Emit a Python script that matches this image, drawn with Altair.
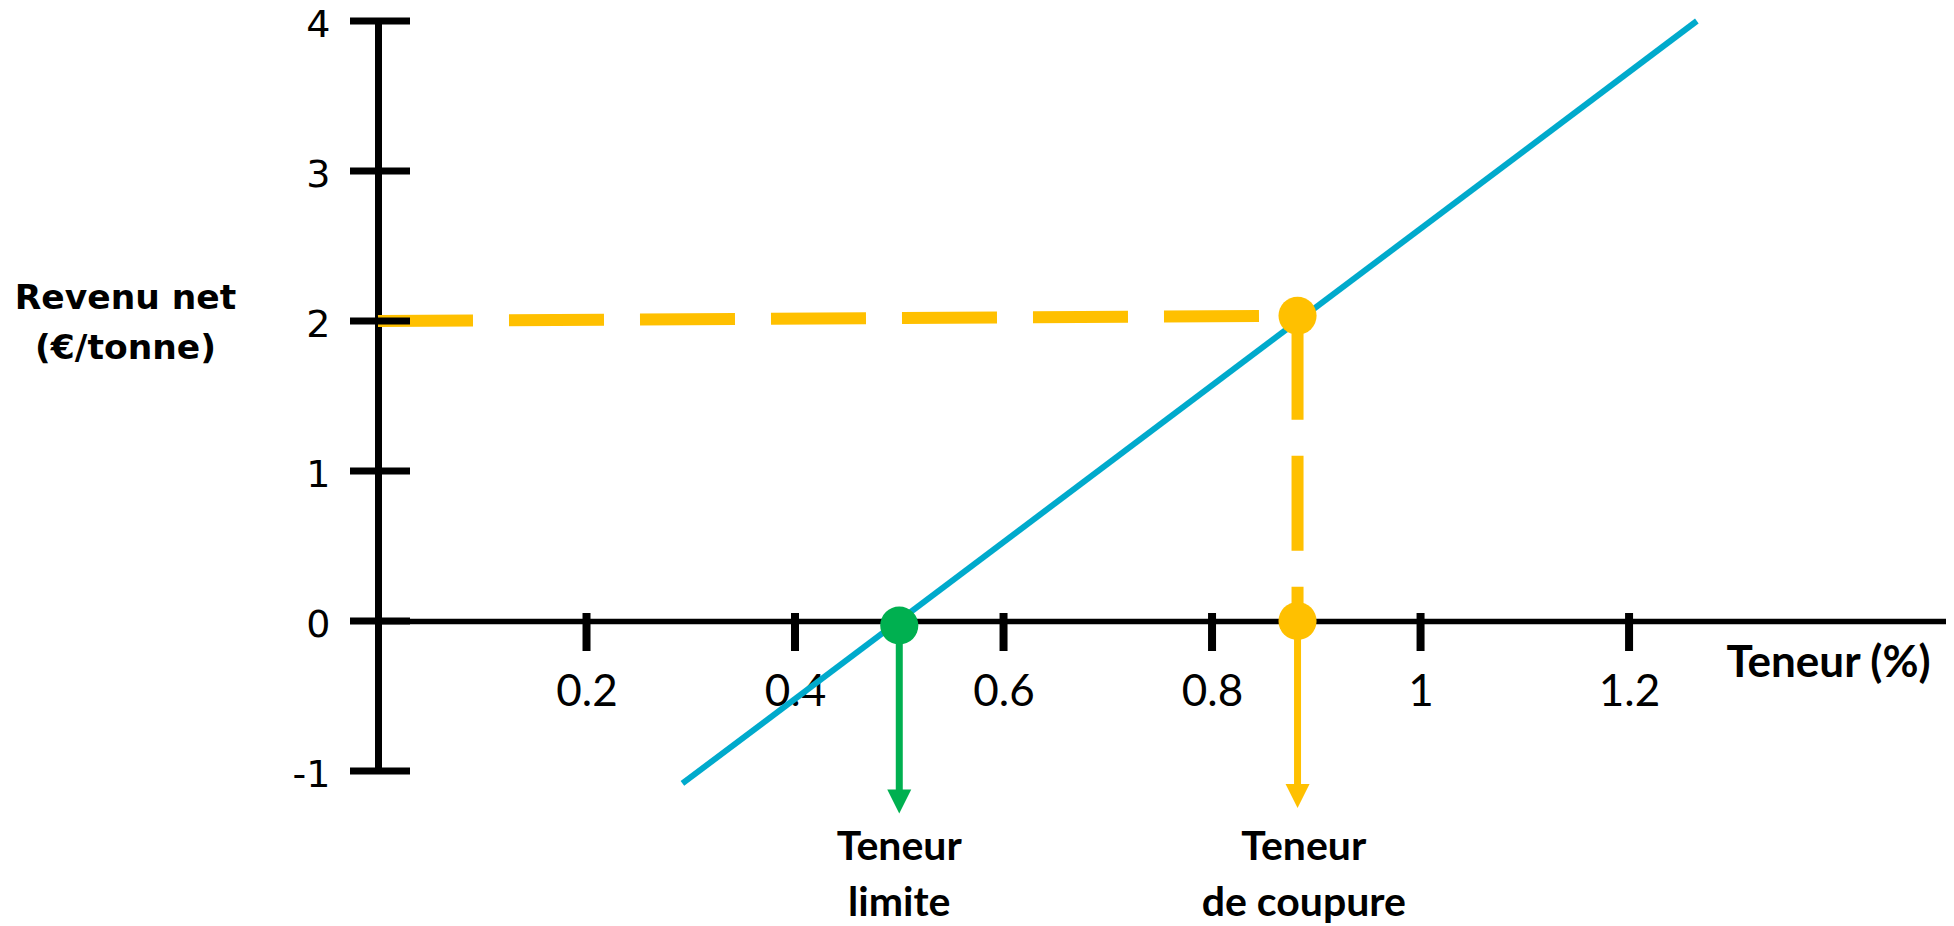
import altair as alt
import pandas as pd

# ---- data ----
x_ticks = [0.2, 0.4, 0.6, 0.8, 1.0, 1.2]
y_ticks = [-1, 0, 1, 2, 3, 4]

revenue_x = [0.292, 1.265]
revenue_y = [-1.083, 4.0]

# key points: teneur limite (green) and teneur de coupure (yellow)
limit_x = [0.5]
limit_y = [-0.03]
cut_x = [0.882, 0.882]
cut_y = [2.035, 0.0]

# dashed guide lines (start -> end)
hguide_x, hguide_x2, hguide_y, hguide_y2 = [0.0], [0.882], [2.0], [2.035]
vguide_x, vguide_x2, vguide_y, vguide_y2 = [0.882], [0.882], [2.035], [0.0]

# arrows pointing down from the x axis
arrow_x = [0.5, 0.882]
arrow_start = [-0.03, 0.0]
arrow_shaft_end = [-1.13, -1.09]
arrow_tip = [-1.203, -1.167]
arrow_colors = ["#00B050", "#FFC000"]

label_x = [0.5, 0.888]
label_y = [-1.593, -1.593]
label_text = ["Teneur\nlimite", "Teneur\nde coupure"]

GREEN = "#00B050"
YELLOW = "#FFC000"
BLUE = "#00AACC"

xs = alt.Scale(domain=[0, 1.504], nice=False, zero=False)
ys = alt.Scale(domain=[-1, 4], nice=False, zero=False)

x_axis = alt.Axis(
    values=x_ticks, labelExpr="'' + datum.value", offset=-150,
    ticks=False, tickSize=0, labelPadding=84, labelBaseline="alphabetic",
    labelFont="Lato", labelFontSize=44, labelColor="black",
    labelFlush=False, labelOverlap=False,
    domainColor="black", domainWidth=5.5, grid=False,
    title="Teneur (%)", titleX=1450, titleY=55, titleAlign="center",
    titleBaseline="alphabetic", titleFont="Lato", titleFontWeight="bold",
    titleFontSize=44, titleColor="black",
)
y_axis = alt.Axis(
    values=y_ticks, labelExpr="'' + datum.value",
    ticks=False, tickSize=0, labelPadding=48,
    labelFont="DejaVu Sans", labelFontSize=38, labelColor="black",
    labelOffset=4, labelFlush=False, labelOverlap=False,
    domainColor="black", domainWidth=7, grid=False,
    title=["Revenu net", "(€/tonne)"], titleAngle=0, titleX=-253, titleY=287,
    titleAlign="center", titleBaseline="alphabetic", titleFont="DejaVu Sans",
    titleFontWeight="bold", titleFontSize=34.5, titleLineHeight=50,
    titleColor="black",
)

X = alt.X("x:Q", scale=xs, axis=x_axis)
Y = alt.Y("y:Q", scale=ys, axis=y_axis)

line_df = pd.DataFrame({"x": revenue_x, "y": revenue_y})
blue = alt.Chart(line_df).mark_line(color=BLUE, strokeWidth=6).encode(x=X, y=Y)

hguide_df = pd.DataFrame({"x": hguide_x, "x2": hguide_x2, "y": hguide_y, "y2": hguide_y2})
hguide = alt.Chart(hguide_df).mark_rule(color=YELLOW, strokeWidth=12, strokeDash=[95, 36]).encode(
    x=X, x2="x2:Q", y=Y, y2="y2:Q"
)
vguide_df = pd.DataFrame({"x": vguide_x, "x2": vguide_x2, "y": vguide_y, "y2": vguide_y2})
vguide = alt.Chart(vguide_df).mark_rule(
    color=YELLOW, strokeWidth=12, strokeDash=[95, 36], strokeDashOffset=-9
).encode(x=X, x2="x2:Q", y=Y, y2="y2:Q")

ytick_df = pd.DataFrame({"x": [0] * len(y_ticks), "y": y_ticks})
yticks = alt.Chart(ytick_df).mark_tick(
    orient="horizontal", size=60, thickness=7, color="black", xOffset=2, opacity=1
).encode(x=X, y=Y)

xtick_df = pd.DataFrame({"x": x_ticks, "y": [0] * len(x_ticks)})
xticks = alt.Chart(xtick_df).mark_tick(
    orient="vertical", size=38, thickness=8, color="black", yOffset=11, opacity=1
).encode(x=X, y=Y)

arrow_df = pd.DataFrame({
    "x": arrow_x, "y": arrow_start, "y2": arrow_shaft_end,
    "tip": arrow_tip, "c": arrow_colors,
})
shafts = alt.Chart(arrow_df).mark_rule(strokeWidth=7).encode(
    x=X, y=Y, y2="y2:Q", color=alt.Color("c:N", scale=None)
)
heads = alt.Chart(arrow_df).mark_point(
    shape="M-1,-1L1,-1L0,1Z", filled=True, size=576, opacity=1, strokeWidth=0
).encode(x=X, y=alt.Y("tip:Q", scale=ys, axis=y_axis), color=alt.Color("c:N", scale=None))

dots_df = pd.DataFrame({
    "x": limit_x + cut_x,
    "y": limit_y + cut_y,
    "c": [GREEN] + [YELLOW] * len(cut_x),
})
dots = alt.Chart(dots_df).mark_circle(size=1452, opacity=1).encode(
    x=X, y=Y, color=alt.Color("c:N", scale=None)
)

lab_df = pd.DataFrame({"x": label_x, "y": label_y, "t": label_text})
labels = alt.Chart(lab_df).mark_text(
    font="Lato", fontWeight="bold", fontSize=41, color="black",
    align="center", baseline="alphabetic", lineBreak="\n", lineHeight=56,
).encode(x=X, y=Y, text="t:N")

chart = alt.layer(blue, hguide, vguide, shafts, heads, xticks, yticks, dots, labels).properties(
    width=1568, height=750,
    autosize=alt.AutoSizeParams(type="none"),
    padding={"left": 370, "top": 13, "right": 0, "bottom": 160},
    background="white",
).configure_view(stroke="transparent")

chart.save("out.html", embed_options={"renderer": "svg", "actions": False})
